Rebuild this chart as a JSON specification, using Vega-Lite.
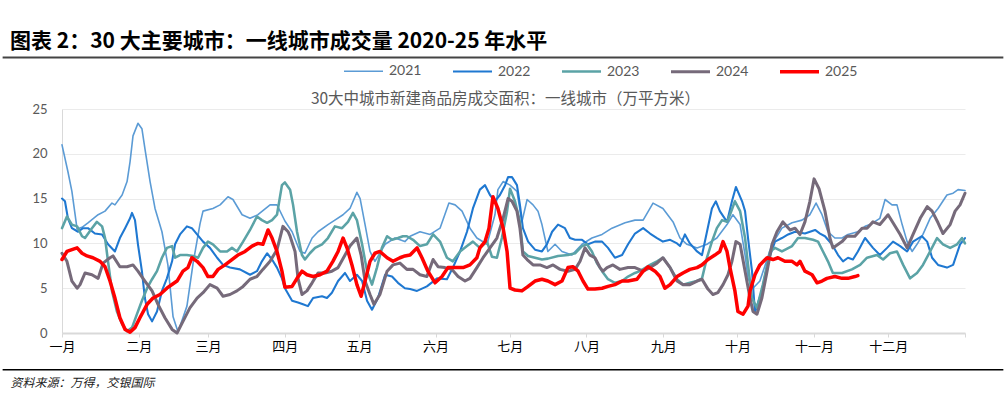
{
"$schema":"https://vega.github.io/schema/vega-lite/v6.json",
"width":903,"height":224,
"autosize":{"type":"none"},
"padding":{"left":62,"top":109,"right":41,"bottom":60},
"background":"white",
"config":{"view":{"stroke":null}},
"title":{"text":"图表 2：30 大主要城市：一线城市成交量 2020-25 年水平","anchor":"start","frame":"group","dx":-52,"offset":-2,"font":"Noto Sans CJK SC","fontSize":21,"fontWeight":"bold","color":"#000000"},
"data":{"values":[
{"year":"2021","day":0,"value":21},{"year":"2021","day":2.4,"value":18},{"year":"2021","day":4,"value":15.8},{"year":"2021","day":5.3,"value":13.2},{"year":"2021","day":6.1,"value":11.6},{"year":"2021","day":8.1,"value":11.8},{"year":"2021","day":10.5,"value":12.3},{"year":"2021","day":14.6,"value":13.2},{"year":"2021","day":17.4,"value":13.6},{"year":"2021","day":20.2,"value":14.5},{"year":"2021","day":21.4,"value":14.3},{"year":"2021","day":24.3,"value":15.4},{"year":"2021","day":26.3,"value":16.9},{"year":"2021","day":27.5,"value":19.1},{"year":"2021","day":28.7,"value":22},{"year":"2021","day":30.7,"value":23.4},{"year":"2021","day":32.3,"value":22.8},{"year":"2021","day":33.5,"value":20.6},{"year":"2021","day":35.6,"value":16.9},{"year":"2021","day":37.6,"value":13.9},{"year":"2021","day":40.4,"value":11.3},{"year":"2021","day":42.8,"value":7.6},{"year":"2021","day":44.9,"value":1.8},{"year":"2021","day":46.9,"value":0.1},{"year":"2021","day":50.5,"value":3},{"year":"2021","day":53,"value":7.8},{"year":"2021","day":55.8,"value":12.2},{"year":"2021","day":57,"value":13.6},{"year":"2021","day":61,"value":13.9},{"year":"2021","day":63.9,"value":14.3},{"year":"2021","day":67.1,"value":15.2},{"year":"2021","day":69.1,"value":14.9},{"year":"2021","day":72.8,"value":13.2},{"year":"2021","day":76,"value":12.8},{"year":"2021","day":79.2,"value":13.2},{"year":"2021","day":84.1,"value":14.3},{"year":"2021","day":86.9,"value":14.3},{"year":"2021","day":90.1,"value":12.5},{"year":"2021","day":93,"value":11.3},{"year":"2021","day":96.2,"value":9.1},{"year":"2021","day":98.2,"value":8.9},{"year":"2021","day":101.1,"value":10.6},{"year":"2021","day":103.5,"value":11.3},{"year":"2021","day":107.5,"value":12.1},{"year":"2021","day":110.3,"value":12.6},{"year":"2021","day":113.6,"value":13.2},{"year":"2021","day":116.4,"value":13.9},{"year":"2021","day":119.2,"value":15.7},{"year":"2021","day":120.5,"value":15},{"year":"2021","day":122.5,"value":12.1},{"year":"2021","day":124.5,"value":9.1},{"year":"2021","day":126.5,"value":8},{"year":"2021","day":130.6,"value":9.9},{"year":"2021","day":134.6,"value":10.6},{"year":"2021","day":138.6,"value":10.2},{"year":"2021","day":140.7,"value":10.8},{"year":"2021","day":144.7,"value":11.3},{"year":"2021","day":148.8,"value":11},{"year":"2021","day":152.8,"value":11.7},{"year":"2021","day":156.4,"value":14.5},{"year":"2021","day":158.9,"value":14.3},{"year":"2021","day":161.7,"value":13.6},{"year":"2021","day":164.9,"value":11.7},{"year":"2021","day":167.7,"value":10.6},{"year":"2021","day":171.8,"value":9.9},{"year":"2021","day":175,"value":13.2},{"year":"2021","day":176.2,"value":16},{"year":"2021","day":178.3,"value":16.9},{"year":"2021","day":181.1,"value":16.5},{"year":"2021","day":183.9,"value":15.8},{"year":"2021","day":185.9,"value":12.4},{"year":"2021","day":188,"value":14.9},{"year":"2021","day":190.4,"value":14.3},{"year":"2021","day":192.4,"value":13.6},{"year":"2021","day":194,"value":12.1},{"year":"2021","day":196.4,"value":9.1},{"year":"2021","day":199.3,"value":9.9},{"year":"2021","day":202.1,"value":9.1},{"year":"2021","day":206.1,"value":8.7},{"year":"2021","day":210.2,"value":9.9},{"year":"2021","day":214.2,"value":10.6},{"year":"2021","day":218.3,"value":11},{"year":"2021","day":222.3,"value":11.7},{"year":"2021","day":227.6,"value":12.3},{"year":"2021","day":231.6,"value":12.6},{"year":"2021","day":234.9,"value":12.6},{"year":"2021","day":238.9,"value":14.5},{"year":"2021","day":242.9,"value":13.9},{"year":"2021","day":247,"value":12.4},{"year":"2021","day":249.8,"value":10.6},{"year":"2021","day":252.6,"value":9.9},{"year":"2021","day":256.7,"value":9.5},{"year":"2021","day":260.7,"value":9.9},{"year":"2021","day":264.7,"value":10.6},{"year":"2021","day":268.8,"value":12.1},{"year":"2021","day":271.2,"value":13.2},{"year":"2021","day":274.1,"value":12.1},{"year":"2021","day":276.1,"value":8.7},{"year":"2021","day":277.3,"value":6.1},{"year":"2021","day":279.3,"value":5},{"year":"2021","day":282.1,"value":5.8},{"year":"2021","day":287,"value":9.9},{"year":"2021","day":291,"value":11.7},{"year":"2021","day":295.1,"value":12.3},{"year":"2021","day":299.1,"value":12.6},{"year":"2021","day":302.3,"value":13.2},{"year":"2021","day":304.8,"value":14.5},{"year":"2021","day":307.2,"value":13.2},{"year":"2021","day":309.6,"value":11.3},{"year":"2021","day":312.4,"value":10.6},{"year":"2021","day":315.3,"value":10.6},{"year":"2021","day":317.7,"value":11},{"year":"2021","day":321.7,"value":11.3},{"year":"2021","day":324.6,"value":11.9},{"year":"2021","day":326.6,"value":12.1},{"year":"2021","day":330.6,"value":12.8},{"year":"2021","day":332.7,"value":14.9},{"year":"2021","day":335.5,"value":14.3},{"year":"2021","day":337.5,"value":14.3},{"year":"2021","day":339.6,"value":12.1},{"year":"2021","day":341.6,"value":10.2},{"year":"2021","day":343.6,"value":9.1},{"year":"2021","day":345.6,"value":9.9},{"year":"2021","day":348,"value":11},{"year":"2021","day":350.9,"value":12.8},{"year":"2021","day":354.1,"value":13.9},{"year":"2021","day":357.7,"value":15.4},{"year":"2021","day":360.2,"value":15.6},{"year":"2021","day":362.2,"value":16},{"year":"2021","day":365,"value":15.9},
{"year":"2022","day":0,"value":15},{"year":"2022","day":1.2,"value":14.7},{"year":"2022","day":2.4,"value":12.8},{"year":"2022","day":4,"value":11.7},{"year":"2022","day":6.5,"value":11.3},{"year":"2022","day":8.5,"value":11.7},{"year":"2022","day":10.5,"value":11.7},{"year":"2022","day":13.3,"value":11.1},{"year":"2022","day":16.2,"value":11},{"year":"2022","day":18.6,"value":9.9},{"year":"2022","day":21.4,"value":9.1},{"year":"2022","day":23.4,"value":10.6},{"year":"2022","day":25.5,"value":11.7},{"year":"2022","day":27.5,"value":12.8},{"year":"2022","day":28.3,"value":13.4},{"year":"2022","day":29.5,"value":12.6},{"year":"2022","day":30.7,"value":9.9},{"year":"2022","day":32.3,"value":6.9},{"year":"2022","day":33.5,"value":3.9},{"year":"2022","day":34.8,"value":2.1},{"year":"2022","day":36.4,"value":1.3},{"year":"2022","day":38.4,"value":2.4},{"year":"2022","day":40.4,"value":4.7},{"year":"2022","day":42.4,"value":6.1},{"year":"2022","day":44.5,"value":8},{"year":"2022","day":45.7,"value":9.9},{"year":"2022","day":47.7,"value":11},{"year":"2022","day":50.5,"value":11.9},{"year":"2022","day":52.5,"value":11.7},{"year":"2022","day":54.6,"value":11},{"year":"2022","day":57,"value":10.2},{"year":"2022","day":59.8,"value":9.5},{"year":"2022","day":62.7,"value":8.4},{"year":"2022","day":65.1,"value":7.6},{"year":"2022","day":67.9,"value":7.3},{"year":"2022","day":71.9,"value":7.1},{"year":"2022","day":76,"value":6.5},{"year":"2022","day":78.8,"value":6.9},{"year":"2022","day":80.8,"value":8},{"year":"2022","day":82.9,"value":8.9},{"year":"2022","day":84.9,"value":8.2},{"year":"2022","day":86.9,"value":7.3},{"year":"2022","day":88.9,"value":6.1},{"year":"2022","day":90.1,"value":5},{"year":"2022","day":93,"value":3.6},{"year":"2022","day":95.4,"value":3.4},{"year":"2022","day":97.4,"value":3.2},{"year":"2022","day":99.4,"value":3},{"year":"2022","day":101.5,"value":3.9},{"year":"2022","day":105.1,"value":4.1},{"year":"2022","day":107.1,"value":3.9},{"year":"2022","day":109.1,"value":4.5},{"year":"2022","day":111.6,"value":5.8},{"year":"2022","day":114.4,"value":6.7},{"year":"2022","day":116.4,"value":5.8},{"year":"2022","day":119.2,"value":6.5},{"year":"2022","day":121.3,"value":5.8},{"year":"2022","day":123.3,"value":3.6},{"year":"2022","day":125.3,"value":2.6},{"year":"2022","day":127.7,"value":3.9},{"year":"2022","day":130.6,"value":6.5},{"year":"2022","day":133.4,"value":6.3},{"year":"2022","day":135.8,"value":5.6},{"year":"2022","day":138.6,"value":5},{"year":"2022","day":140.7,"value":4.9},{"year":"2022","day":143.5,"value":4.7},{"year":"2022","day":147.5,"value":5.2},{"year":"2022","day":151.6,"value":6.1},{"year":"2022","day":155.6,"value":6},{"year":"2022","day":158,"value":7.3},{"year":"2022","day":160.9,"value":9.1},{"year":"2022","day":163.7,"value":11.3},{"year":"2022","day":166.1,"value":13.9},{"year":"2022","day":168.9,"value":16},{"year":"2022","day":171,"value":16.5},{"year":"2022","day":173,"value":15.4},{"year":"2022","day":175,"value":14.7},{"year":"2022","day":177,"value":15.4},{"year":"2022","day":179.1,"value":16.5},{"year":"2022","day":180.3,"value":17.4},{"year":"2022","day":181.9,"value":17.4},{"year":"2022","day":183.9,"value":16.5},{"year":"2022","day":185.1,"value":14.3},{"year":"2022","day":186.3,"value":11.7},{"year":"2022","day":188.4,"value":10.2},{"year":"2022","day":191.2,"value":9.3},{"year":"2022","day":194,"value":9.1},{"year":"2022","day":196,"value":9.9},{"year":"2022","day":198.1,"value":11.3},{"year":"2022","day":200.5,"value":12.1},{"year":"2022","day":203.3,"value":11.7},{"year":"2022","day":205.3,"value":10.6},{"year":"2022","day":207.4,"value":10.4},{"year":"2022","day":210.2,"value":10.4},{"year":"2022","day":212.6,"value":9.9},{"year":"2022","day":215.4,"value":10.2},{"year":"2022","day":218.3,"value":10.2},{"year":"2022","day":220.7,"value":9.5},{"year":"2022","day":223.5,"value":8.4},{"year":"2022","day":226.4,"value":8.7},{"year":"2022","day":228.8,"value":9.9},{"year":"2022","day":231.6,"value":11.1},{"year":"2022","day":234.9,"value":11.7},{"year":"2022","day":237.7,"value":11.1},{"year":"2022","day":240.5,"value":10.6},{"year":"2022","day":242.9,"value":10.2},{"year":"2022","day":245.8,"value":10.4},{"year":"2022","day":248.6,"value":10},{"year":"2022","day":249.8,"value":9.7},{"year":"2022","day":251.8,"value":11},{"year":"2022","day":253.8,"value":10},{"year":"2022","day":256.7,"value":9.1},{"year":"2022","day":258.7,"value":8.7},{"year":"2022","day":260.7,"value":11.3},{"year":"2022","day":262.7,"value":13.9},{"year":"2022","day":264.3,"value":14.7},{"year":"2022","day":265.9,"value":13.6},{"year":"2022","day":268.8,"value":12.4},{"year":"2022","day":270.8,"value":14.7},{"year":"2022","day":272.4,"value":16.3},{"year":"2022","day":274.9,"value":14.7},{"year":"2022","day":276.1,"value":13.6},{"year":"2022","day":277.3,"value":10.6},{"year":"2022","day":278.9,"value":6.9},{"year":"2022","day":280.1,"value":2.3},{"year":"2022","day":282.9,"value":4.7},{"year":"2022","day":285.4,"value":8},{"year":"2022","day":288.2,"value":10.2},{"year":"2022","day":291,"value":10.6},{"year":"2022","day":293.5,"value":11},{"year":"2022","day":296.3,"value":11.3},{"year":"2022","day":300.3,"value":11.1},{"year":"2022","day":304.4,"value":11.5},{"year":"2022","day":306.4,"value":11.1},{"year":"2022","day":308.4,"value":10.8},{"year":"2022","day":311.2,"value":9.9},{"year":"2022","day":313.7,"value":8.7},{"year":"2022","day":315.7,"value":8},{"year":"2022","day":317.7,"value":8.4},{"year":"2022","day":319.7,"value":8.2},{"year":"2022","day":321.7,"value":9.1},{"year":"2022","day":324.6,"value":10.6},{"year":"2022","day":327.8,"value":9.5},{"year":"2022","day":330.6,"value":8.7},{"year":"2022","day":333.5,"value":9.5},{"year":"2022","day":335.9,"value":10.2},{"year":"2022","day":338.8,"value":9.7},{"year":"2022","day":341.6,"value":9.1},{"year":"2022","day":344,"value":10.2},{"year":"2022","day":347.6,"value":10.8},{"year":"2022","day":349.7,"value":10.2},{"year":"2022","day":351.7,"value":8.4},{"year":"2022","day":354.1,"value":7.6},{"year":"2022","day":357.7,"value":7.3},{"year":"2022","day":360.2,"value":7.6},{"year":"2022","day":363,"value":9.9},{"year":"2022","day":365,"value":10.6},
{"year":"2023","day":0,"value":11.7},{"year":"2023","day":2,"value":13},{"year":"2023","day":4,"value":12.1},{"year":"2023","day":6.1,"value":11.9},{"year":"2023","day":8.1,"value":10.8},{"year":"2023","day":9.3,"value":10.6},{"year":"2023","day":12.1,"value":11.7},{"year":"2023","day":14.1,"value":12.4},{"year":"2023","day":16.2,"value":11.9},{"year":"2023","day":17.4,"value":10.6},{"year":"2023","day":18.6,"value":8},{"year":"2023","day":20.2,"value":4.7},{"year":"2023","day":22.2,"value":2.4},{"year":"2023","day":24.3,"value":1},{"year":"2023","day":26.3,"value":0.2},{"year":"2023","day":28.3,"value":0.6},{"year":"2023","day":30.3,"value":2.1},{"year":"2023","day":32.3,"value":3.6},{"year":"2023","day":34.4,"value":5},{"year":"2023","day":36.4,"value":6},{"year":"2023","day":38.4,"value":6.9},{"year":"2023","day":40.4,"value":8.4},{"year":"2023","day":42.4,"value":9.5},{"year":"2023","day":44.5,"value":9.7},{"year":"2023","day":45.7,"value":8.4},{"year":"2023","day":47.7,"value":8.7},{"year":"2023","day":50.5,"value":8.7},{"year":"2023","day":53,"value":8.6},{"year":"2023","day":55,"value":8.4},{"year":"2023","day":57,"value":9.5},{"year":"2023","day":59,"value":10.2},{"year":"2023","day":61,"value":9.9},{"year":"2023","day":63.9,"value":9.1},{"year":"2023","day":66.7,"value":9.1},{"year":"2023","day":68.7,"value":9.5},{"year":"2023","day":70.7,"value":9.1},{"year":"2023","day":73.2,"value":10.2},{"year":"2023","day":76,"value":11.5},{"year":"2023","day":78.8,"value":13},{"year":"2023","day":80.8,"value":12.6},{"year":"2023","day":82.9,"value":12.3},{"year":"2023","day":84.9,"value":12.6},{"year":"2023","day":86.9,"value":13.2},{"year":"2023","day":88.9,"value":16.5},{"year":"2023","day":90.1,"value":16.8},{"year":"2023","day":92.2,"value":16},{"year":"2023","day":93.4,"value":14.3},{"year":"2023","day":95,"value":11.3},{"year":"2023","day":97,"value":8.7},{"year":"2023","day":98.2,"value":8.2},{"year":"2023","day":100.2,"value":8.9},{"year":"2023","day":102.3,"value":9.5},{"year":"2023","day":105.1,"value":9.9},{"year":"2023","day":107.5,"value":10.6},{"year":"2023","day":110.3,"value":11.9},{"year":"2023","day":113.2,"value":11.7},{"year":"2023","day":115.6,"value":12.4},{"year":"2023","day":117.6,"value":13.4},{"year":"2023","day":119.2,"value":12.6},{"year":"2023","day":121.3,"value":9.9},{"year":"2023","day":123.3,"value":6.9},{"year":"2023","day":125.3,"value":5.4},{"year":"2023","day":127.3,"value":7.3},{"year":"2023","day":129.3,"value":9.5},{"year":"2023","day":131.4,"value":10.8},{"year":"2023","day":133.4,"value":10.4},{"year":"2023","day":135.8,"value":10.6},{"year":"2023","day":137.8,"value":10.8},{"year":"2023","day":139.4,"value":10.8},{"year":"2023","day":141.9,"value":10.4},{"year":"2023","day":144.7,"value":9.7},{"year":"2023","day":147.5,"value":9.9},{"year":"2023","day":150,"value":11},{"year":"2023","day":152.8,"value":10.2},{"year":"2023","day":155.6,"value":8.4},{"year":"2023","day":158,"value":8},{"year":"2023","day":160.9,"value":9.1},{"year":"2023","day":163.7,"value":9.7},{"year":"2023","day":166.1,"value":10.2},{"year":"2023","day":168.9,"value":9.5},{"year":"2023","day":171.8,"value":10.2},{"year":"2023","day":173.8,"value":8.5},{"year":"2023","day":175.8,"value":8.4},{"year":"2023","day":177.8,"value":10.6},{"year":"2023","day":179.9,"value":13.6},{"year":"2023","day":181.1,"value":16.1},{"year":"2023","day":183.1,"value":14.7},{"year":"2023","day":185.1,"value":12.4},{"year":"2023","day":186.3,"value":9.1},{"year":"2023","day":188.4,"value":8.6},{"year":"2023","day":191.2,"value":8.4},{"year":"2023","day":194,"value":8.2},{"year":"2023","day":196.4,"value":8.3},{"year":"2023","day":200.5,"value":8.6},{"year":"2023","day":204.5,"value":8.7},{"year":"2023","day":207.4,"value":8.9},{"year":"2023","day":210.2,"value":9.7},{"year":"2023","day":212.2,"value":9.9},{"year":"2023","day":214.2,"value":9.1},{"year":"2023","day":216.2,"value":7.8},{"year":"2023","day":218.3,"value":6.9},{"year":"2023","day":220.7,"value":6},{"year":"2023","day":223.5,"value":5.6},{"year":"2023","day":226.4,"value":5.8},{"year":"2023","day":228.8,"value":6.3},{"year":"2023","day":231.6,"value":6.7},{"year":"2023","day":233.6,"value":6.9},{"year":"2023","day":237.7,"value":7.6},{"year":"2023","day":240.5,"value":8},{"year":"2023","day":242.9,"value":8.4},{"year":"2023","day":245.8,"value":7.3},{"year":"2023","day":248.6,"value":6},{"year":"2023","day":251,"value":5.4},{"year":"2023","day":253.8,"value":5.6},{"year":"2023","day":256.7,"value":5.8},{"year":"2023","day":258.7,"value":6.1},{"year":"2023","day":260.7,"value":8.4},{"year":"2023","day":262.7,"value":10.2},{"year":"2023","day":264.7,"value":11.7},{"year":"2023","day":266.8,"value":12.6},{"year":"2023","day":268.8,"value":12.4},{"year":"2023","day":270,"value":13.2},{"year":"2023","day":272,"value":14.7},{"year":"2023","day":274.1,"value":13.6},{"year":"2023","day":276.1,"value":10.6},{"year":"2023","day":277.3,"value":7.6},{"year":"2023","day":278.9,"value":3.9},{"year":"2023","day":280.9,"value":2.8},{"year":"2023","day":283.3,"value":5.4},{"year":"2023","day":286.2,"value":9.1},{"year":"2023","day":288.2,"value":9.5},{"year":"2023","day":291,"value":9.1},{"year":"2023","day":295.1,"value":9.7},{"year":"2023","day":297.5,"value":10.6},{"year":"2023","day":300.3,"value":10.6},{"year":"2023","day":303.6,"value":10.4},{"year":"2023","day":305.6,"value":10.2},{"year":"2023","day":307.6,"value":9.1},{"year":"2023","day":309.6,"value":8},{"year":"2023","day":311.6,"value":6.7},{"year":"2023","day":315.3,"value":6.7},{"year":"2023","day":319.3,"value":7.1},{"year":"2023","day":322.6,"value":7.6},{"year":"2023","day":325.4,"value":8.4},{"year":"2023","day":329.4,"value":8.7},{"year":"2023","day":331.9,"value":8.2},{"year":"2023","day":334.7,"value":8.9},{"year":"2023","day":337.5,"value":9.1},{"year":"2023","day":340,"value":7.6},{"year":"2023","day":342.8,"value":6.1},{"year":"2023","day":345.6,"value":6.7},{"year":"2023","day":348,"value":7.6},{"year":"2023","day":350.9,"value":9.1},{"year":"2023","day":353.7,"value":10.6},{"year":"2023","day":356.1,"value":9.9},{"year":"2023","day":359,"value":9.5},{"year":"2023","day":361.8,"value":9.9},{"year":"2023","day":363.8,"value":10.6},{"year":"2023","day":365,"value":10},
{"year":"2024","day":0,"value":8.9},{"year":"2024","day":2,"value":8},{"year":"2024","day":4,"value":5.8},{"year":"2024","day":6.1,"value":5},{"year":"2024","day":7.3,"value":5.4},{"year":"2024","day":9.3,"value":6.7},{"year":"2024","day":12.1,"value":6.5},{"year":"2024","day":14.6,"value":6.1},{"year":"2024","day":16.6,"value":7.8},{"year":"2024","day":19.4,"value":8.4},{"year":"2024","day":20.6,"value":8.6},{"year":"2024","day":23.4,"value":7.4},{"year":"2024","day":26.3,"value":7.4},{"year":"2024","day":28.7,"value":7.6},{"year":"2024","day":30.7,"value":6.9},{"year":"2024","day":33.5,"value":5.8},{"year":"2024","day":36.4,"value":4.7},{"year":"2024","day":38.8,"value":3.2},{"year":"2024","day":41.6,"value":1.7},{"year":"2024","day":44.5,"value":0.4},{"year":"2024","day":46.5,"value":0},{"year":"2024","day":48.9,"value":1.3},{"year":"2024","day":51.7,"value":2.8},{"year":"2024","day":54.6,"value":3.9},{"year":"2024","day":57,"value":4.5},{"year":"2024","day":59.8,"value":5.4},{"year":"2024","day":62.7,"value":5},{"year":"2024","day":65.1,"value":4.1},{"year":"2024","day":67.9,"value":4.3},{"year":"2024","day":70.7,"value":4.7},{"year":"2024","day":73.2,"value":5.2},{"year":"2024","day":76,"value":6},{"year":"2024","day":78.8,"value":6.3},{"year":"2024","day":81.2,"value":7.1},{"year":"2024","day":84.1,"value":8},{"year":"2024","day":86.9,"value":9.3},{"year":"2024","day":89.3,"value":11.9},{"year":"2024","day":91.4,"value":11.3},{"year":"2024","day":92.2,"value":10.8},{"year":"2024","day":94.2,"value":9.1},{"year":"2024","day":95.4,"value":6.1},{"year":"2024","day":97,"value":4.3},{"year":"2024","day":99,"value":4.7},{"year":"2024","day":101.1,"value":5.6},{"year":"2024","day":103.5,"value":6.7},{"year":"2024","day":106.3,"value":6.7},{"year":"2024","day":109.1,"value":6.9},{"year":"2024","day":111.6,"value":7.3},{"year":"2024","day":114.4,"value":8.7},{"year":"2024","day":116.4,"value":9.7},{"year":"2024","day":119.2,"value":10.6},{"year":"2024","day":120.9,"value":8.7},{"year":"2024","day":122.5,"value":5.8},{"year":"2024","day":124.5,"value":4.3},{"year":"2024","day":126.1,"value":3.2},{"year":"2024","day":128.5,"value":4.3},{"year":"2024","day":131.4,"value":6.9},{"year":"2024","day":133.8,"value":7.6},{"year":"2024","day":136.6,"value":7.8},{"year":"2024","day":139.4,"value":7.1},{"year":"2024","day":141.9,"value":7.1},{"year":"2024","day":144.7,"value":6.5},{"year":"2024","day":147.5,"value":6.3},{"year":"2024","day":150,"value":8.2},{"year":"2024","day":152,"value":7.4},{"year":"2024","day":154.8,"value":7.3},{"year":"2024","day":157.6,"value":7.1},{"year":"2024","day":160.1,"value":6.3},{"year":"2024","day":162.9,"value":5.8},{"year":"2024","day":164.9,"value":6.1},{"year":"2024","day":167.7,"value":7.3},{"year":"2024","day":170.2,"value":8.4},{"year":"2024","day":173,"value":9.5},{"year":"2024","day":175.8,"value":10.6},{"year":"2024","day":178.3,"value":12.8},{"year":"2024","day":180.3,"value":15},{"year":"2024","day":181.9,"value":14.7},{"year":"2024","day":183.9,"value":13.6},{"year":"2024","day":185.1,"value":11.7},{"year":"2024","day":186.3,"value":8.7},{"year":"2024","day":188,"value":8.2},{"year":"2024","day":190.4,"value":7.6},{"year":"2024","day":193.2,"value":7.6},{"year":"2024","day":196,"value":7.3},{"year":"2024","day":198.5,"value":7.6},{"year":"2024","day":201.3,"value":7.1},{"year":"2024","day":204.5,"value":6.9},{"year":"2024","day":207.4,"value":7.1},{"year":"2024","day":209.4,"value":8},{"year":"2024","day":211.4,"value":9.5},{"year":"2024","day":213.4,"value":8.7},{"year":"2024","day":215.4,"value":8.4},{"year":"2024","day":217.5,"value":7.3},{"year":"2024","day":218.7,"value":6.9},{"year":"2024","day":220.3,"value":7.3},{"year":"2024","day":222.7,"value":7.6},{"year":"2024","day":225.5,"value":7.1},{"year":"2024","day":228.8,"value":7.3},{"year":"2024","day":231.6,"value":7.3},{"year":"2024","day":234.9,"value":6.9},{"year":"2024","day":237.7,"value":7.3},{"year":"2024","day":240.5,"value":7.8},{"year":"2024","day":242.9,"value":8.4},{"year":"2024","day":245.8,"value":7.3},{"year":"2024","day":248.6,"value":5.8},{"year":"2024","day":251,"value":5.4},{"year":"2024","day":253.8,"value":5.4},{"year":"2024","day":256.7,"value":5.8},{"year":"2024","day":258.7,"value":6},{"year":"2024","day":261.1,"value":4.9},{"year":"2024","day":263.1,"value":4.3},{"year":"2024","day":265.1,"value":4.5},{"year":"2024","day":267.2,"value":5.4},{"year":"2024","day":269.2,"value":6.5},{"year":"2024","day":270.8,"value":8},{"year":"2024","day":272.4,"value":10.2},{"year":"2024","day":274.1,"value":9.9},{"year":"2024","day":276.1,"value":6.9},{"year":"2024","day":278.1,"value":3.9},{"year":"2024","day":279.3,"value":2.4},{"year":"2024","day":280.9,"value":2.1},{"year":"2024","day":282.9,"value":3.9},{"year":"2024","day":285,"value":6.9},{"year":"2024","day":287,"value":9.9},{"year":"2024","day":289,"value":11.3},{"year":"2024","day":291.4,"value":12.4},{"year":"2024","day":294.3,"value":11.5},{"year":"2024","day":296.3,"value":11.7},{"year":"2024","day":298.3,"value":11},{"year":"2024","day":300.3,"value":12.4},{"year":"2024","day":302.3,"value":14.7},{"year":"2024","day":304,"value":17.2},{"year":"2024","day":306,"value":16.1},{"year":"2024","day":308.4,"value":13.6},{"year":"2024","day":310.4,"value":10.6},{"year":"2024","day":311.6,"value":9.5},{"year":"2024","day":315.3,"value":10.2},{"year":"2024","day":317.3,"value":10.8},{"year":"2024","day":320.5,"value":10.8},{"year":"2024","day":323.4,"value":11.7},{"year":"2024","day":325.4,"value":11.7},{"year":"2024","day":327.8,"value":12.4},{"year":"2024","day":330.6,"value":12.1},{"year":"2024","day":333.9,"value":13.2},{"year":"2024","day":335.9,"value":12.3},{"year":"2024","day":338.8,"value":11},{"year":"2024","day":341.6,"value":9.5},{"year":"2024","day":344,"value":11},{"year":"2024","day":346.9,"value":12.8},{"year":"2024","day":349.7,"value":14.1},{"year":"2024","day":351.7,"value":13.6},{"year":"2024","day":354.1,"value":12.3},{"year":"2024","day":356.1,"value":11.1},{"year":"2024","day":359,"value":12.1},{"year":"2024","day":361,"value":13.6},{"year":"2024","day":363,"value":14.3},{"year":"2024","day":365,"value":15.6},
{"year":"2025","day":0,"value":8.2},{"year":"2025","day":2,"value":9.1},{"year":"2025","day":4,"value":9.3},{"year":"2025","day":6.1,"value":9.5},{"year":"2025","day":8.1,"value":8.9},{"year":"2025","day":10.1,"value":8.6},{"year":"2025","day":12.5,"value":8.4},{"year":"2025","day":15.4,"value":8},{"year":"2025","day":17.4,"value":7.4},{"year":"2025","day":19.4,"value":5.8},{"year":"2025","day":21.4,"value":3.9},{"year":"2025","day":23.4,"value":1.7},{"year":"2025","day":25.5,"value":0.4},{"year":"2025","day":27.5,"value":0.1},{"year":"2025","day":29.5,"value":0.6},{"year":"2025","day":31.5,"value":1.7},{"year":"2025","day":34.4,"value":3.2},{"year":"2025","day":36.8,"value":3.9},{"year":"2025","day":39.6,"value":4.3},{"year":"2025","day":42.4,"value":5},{"year":"2025","day":44.9,"value":5.5},{"year":"2025","day":46.5,"value":5.8},{"year":"2025","day":48.9,"value":6.9},{"year":"2025","day":50.9,"value":7.3},{"year":"2025","day":52.5,"value":8.4},{"year":"2025","day":54.6,"value":8},{"year":"2025","day":57,"value":7.3},{"year":"2025","day":59,"value":6.3},{"year":"2025","day":61,"value":6.3},{"year":"2025","day":63.1,"value":7.1},{"year":"2025","day":65.9,"value":7.6},{"year":"2025","day":68.7,"value":8.2},{"year":"2025","day":71.1,"value":8.7},{"year":"2025","day":74,"value":9.1},{"year":"2025","day":76.8,"value":9.7},{"year":"2025","day":79.2,"value":10},{"year":"2025","day":81.2,"value":9.9},{"year":"2025","day":83.3,"value":11.5},{"year":"2025","day":84.9,"value":10.6},{"year":"2025","day":86.9,"value":9.1},{"year":"2025","day":88.9,"value":6.9},{"year":"2025","day":90.1,"value":5.1},{"year":"2025","day":93,"value":5.2},{"year":"2025","day":95,"value":6.1},{"year":"2025","day":97,"value":6.9},{"year":"2025","day":99,"value":6.5},{"year":"2025","day":101.5,"value":6.3},{"year":"2025","day":104.3,"value":6.5},{"year":"2025","day":107.1,"value":6.9},{"year":"2025","day":109.5,"value":8},{"year":"2025","day":111.6,"value":9.1},{"year":"2025","day":113.6,"value":10.6},{"year":"2025","day":115.2,"value":9.5},{"year":"2025","day":117.2,"value":7.6},{"year":"2025","day":119.2,"value":5.4},{"year":"2025","day":120.9,"value":4.1},{"year":"2025","day":122.5,"value":5.8},{"year":"2025","day":124.5,"value":8},{"year":"2025","day":126.5,"value":8.9},{"year":"2025","day":128.5,"value":9.1},{"year":"2025","day":131.4,"value":8.4},{"year":"2025","day":133.8,"value":8},{"year":"2025","day":136.6,"value":8.4},{"year":"2025","day":138.6,"value":8.6},{"year":"2025","day":140.7,"value":8.7},{"year":"2025","day":143.5,"value":9.5},{"year":"2025","day":145.5,"value":8.4},{"year":"2025","day":147.9,"value":6.9},{"year":"2025","day":150.8,"value":5.6},{"year":"2025","day":153.6,"value":6.3},{"year":"2025","day":156,"value":7.3},{"year":"2025","day":158.9,"value":7.3},{"year":"2025","day":162.1,"value":7.3},{"year":"2025","day":164.9,"value":7.6},{"year":"2025","day":167.7,"value":8.4},{"year":"2025","day":168.9,"value":9.5},{"year":"2025","day":171,"value":10.2},{"year":"2025","day":172.6,"value":11.7},{"year":"2025","day":174.2,"value":15.2},{"year":"2025","day":176.2,"value":13.9},{"year":"2025","day":178.3,"value":11.7},{"year":"2025","day":179.9,"value":9.1},{"year":"2025","day":181.1,"value":5},{"year":"2025","day":183.1,"value":4.8},{"year":"2025","day":185.9,"value":4.7},{"year":"2025","day":188.4,"value":5.2},{"year":"2025","day":191.2,"value":5.8},{"year":"2025","day":194,"value":6},{"year":"2025","day":196.4,"value":5.8},{"year":"2025","day":199.3,"value":5.4},{"year":"2025","day":202.1,"value":5.8},{"year":"2025","day":204.5,"value":7.3},{"year":"2025","day":206.5,"value":7.4},{"year":"2025","day":208.6,"value":6.9},{"year":"2025","day":210.6,"value":5.8},{"year":"2025","day":212.6,"value":4.9},{"year":"2025","day":215.4,"value":4.9},{"year":"2025","day":218.3,"value":5},{"year":"2025","day":220.7,"value":5.2},{"year":"2025","day":223.5,"value":5.4},{"year":"2025","day":226.4,"value":5.8},{"year":"2025","day":228.8,"value":5.8},{"year":"2025","day":232.4,"value":6},{"year":"2025","day":234.9,"value":6.9},{"year":"2025","day":236.9,"value":7.4},{"year":"2025","day":239.7,"value":6.9},{"year":"2025","day":241.7,"value":6.3},{"year":"2025","day":243.7,"value":5},{"year":"2025","day":245.8,"value":5.4},{"year":"2025","day":248.6,"value":6.3},{"year":"2025","day":251,"value":6.7},{"year":"2025","day":253.8,"value":7.1},{"year":"2025","day":256.7,"value":7.3},{"year":"2025","day":258.7,"value":7.6},{"year":"2025","day":261.1,"value":8.2},{"year":"2025","day":263.9,"value":8.7},{"year":"2025","day":265.9,"value":9.1},{"year":"2025","day":267.2,"value":10.2},{"year":"2025","day":268.8,"value":9.1},{"year":"2025","day":270,"value":7.3},{"year":"2025","day":272,"value":4.7},{"year":"2025","day":273.2,"value":2.4},{"year":"2025","day":275.3,"value":2.1},{"year":"2025","day":277.3,"value":3},{"year":"2025","day":278.1,"value":4.7},{"year":"2025","day":280.1,"value":6.5},{"year":"2025","day":282.1,"value":7.6},{"year":"2025","day":285,"value":8.4},{"year":"2025","day":287.4,"value":8.2},{"year":"2025","day":289.4,"value":8.4},{"year":"2025","day":292.2,"value":8},{"year":"2025","day":295.1,"value":8},{"year":"2025","day":297.1,"value":7.6},{"year":"2025","day":298.3,"value":8},{"year":"2025","day":300.3,"value":6.9},{"year":"2025","day":303.2,"value":6.5},{"year":"2025","day":305.2,"value":5.6},{"year":"2025","day":307.2,"value":5.8},{"year":"2025","day":309.2,"value":6.1},{"year":"2025","day":312.4,"value":6.3},{"year":"2025","day":315.3,"value":6.1},{"year":"2025","day":317.7,"value":6.1},{"year":"2025","day":320.5,"value":6.3},{"year":"2025","day":321.7,"value":6.4}
]},
"layer":[
{"mark":{"type":"line","interpolate":"linear","strokeJoin":"round","strokeCap":"round"},
"encoding":{
"x":{"field":"day","type":"quantitative","scale":{"domain":[0,365],"nice":false,"zero":false},
"axis":{"values":[0,31,59,90,120,151,181,212,243,273,304,334,365],"labelExpr":"datum.value >= 365 ? '' : ['一月','二月','三月','四月','五月','六月','七月','八月','九月','十月','十一月','十二月'][indexof([0,31,59,90,120,151,181,212,243,273,304,334], datum.value)]","grid":false,"domainColor":"#d9d9d9","domainWidth":2,"tickColor":"#d9d9d9","tickSize":4,"labelFont":"Noto Sans CJK SC","labelFontSize":13,"labelColor":"#000000","labelPadding":3,"labelFlush":false,"labelOverlap":false,"title":"资料来源：万得，交银国际","titleX":-52,"titleY":49,"titleAlign":"left","titleBaseline":"middle","titleAnchor":"start","titleFont":"Noto Sans CJK SC","titleFontSize":12,"titleFontStyle":"italic","titleFontWeight":"normal","titleColor":"#222222"}},
"y":{"field":"value","type":"quantitative","scale":{"domain":[0,25],"nice":false},
"axis":{"values":[0,5,10,15,20,25],"grid":true,"gridColor":"#ebebeb","domainColor":"#d9d9d9","ticks":false,"labelPadding":15,"labelFont":"Lato","labelFontSize":13,"labelColor":"#595959","title":"30大中城市新建商品房成交面积：一线城市（万平方米）","titleAngle":0,"titleX":443,"titleY":-11,"titleAlign":"center","titleBaseline":"middle","titleFont":"Noto Sans CJK SC","titleFontSize":15.5,"titleFontWeight":"normal","titleColor":"#595959"}},
"color":{"field":"year","type":"nominal","scale":{"domain":["2021","2022","2023","2024","2025"],"range":["#5B9BD5","#1F78D1","#5BA3A6","#766A7A","#FF0000"]},
"legend":{"orient":"none","legendX":280,"legendY":-59,"direction":"horizontal","columns":5,"gridAlign":"all","title":null,"symbolType":"stroke","symbolSize":1521,"symbolStrokeWidth":3.5,"labelFont":"Lato","labelFontSize":14,"labelColor":"#595959","columnPadding":24,"labelOffset":4}},
"strokeWidth":{"field":"year","type":"ordinal","scale":{"domain":["2021","2022","2023","2024","2025"],"range":[1.6,3.5,3.5,3.5,3.5]},"legend":null}
}},
{"data":{"values":[{"line":"top"}]},"mark":{"type":"rule","clip":false,"color":"#444444","strokeWidth":2},"encoding":{"x":{"datum":-24,"type":"quantitative"},"x2":{"datum":380.5},"y":{"datum":30.75,"type":"quantitative"}}},
{"data":{"values":[{"line":"bottom"}]},"mark":{"type":"rule","clip":false,"color":"#000000","strokeWidth":1.5},"encoding":{"x":{"datum":-24,"type":"quantitative"},"x2":{"datum":380.5},"y":{"datum":-4.1,"type":"quantitative"}}}
]
}
